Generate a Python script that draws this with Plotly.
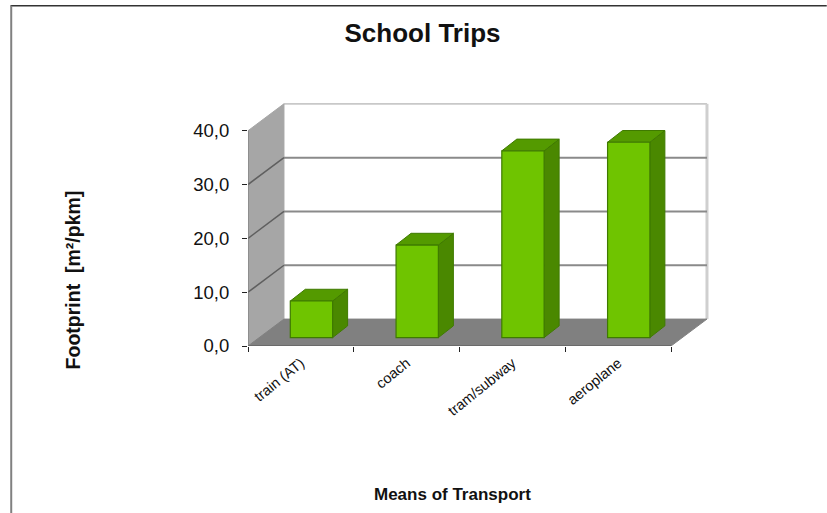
import plotly.graph_objects as go

# Data
categories = ["train (AT)", "coach", "tram/subway", "aeroplane"]
footprint = [6.8, 17.2, 34.7, 36.3]
y_ticks = [0, 10, 20, 30, 40]

# Pseudo-3D geometry, in axis units
WALL_DX, WALL_DY = 0.34, 5.0
BAR_DX, BAR_DY = 0.142, 2.18
BAR_BASE, BAR_SHIFT, BAR_W = 1.56, 0.10, 0.40
X_MAX, Y_MAX = 4.378, 45.15
n = len(categories)
centres = [i + 0.5 for i in range(n)]
bar_x = [c + BAR_SHIFT for c in centres]

FONT = "Liberation Sans, Arial, sans-serif"
EDGE = "#3f7a00"
shapes = []


def poly(xs, ys, fill, line=None, width=1):
    path = "M" + " L".join(f"{x},{y}" for x, y in zip(xs, ys)) + " Z"
    shapes.append(dict(type="path", path=path, xref="x", yref="y", fillcolor=fill,
                       layer="below", line=dict(color=line or fill, width=width)))


def seg(x0, y0, x1, y1, color, width):
    shapes.append(dict(type="line", x0=x0, y0=y0, x1=x1, y1=y1, xref="x", yref="y",
                       layer="below", line=dict(color=color, width=width)))


top = y_ticks[-1]
# back wall with light edge
poly([WALL_DX, n + WALL_DX, n + WALL_DX, WALL_DX],
     [WALL_DY, WALL_DY, top + WALL_DY, top + WALL_DY], "#ffffff")
seg(WALL_DX, top + WALL_DY, n + WALL_DX, top + WALL_DY, "#c8c8c8", 2)
seg(n + WALL_DX, WALL_DY, n + WALL_DX, top + WALL_DY, "#cfcfcf", 3)
# side wall and floor
poly([0, 0, WALL_DX, WALL_DX], [0, top, top + WALL_DY, WALL_DY], "#a6a6a6")
poly([0, n, n + WALL_DX, WALL_DX], [0, 0, WALL_DY, WALL_DY], "#808080")
# gridlines, wall and slanted part
for t in y_ticks[1:-1]:
    seg(WALL_DX, t + WALL_DY, n + WALL_DX, t + WALL_DY, "#8a8a8a", 2)
    seg(0, t, WALL_DX, t + WALL_DY, "#5f5f5f", 1.5)
# bars: side and top faces, computed from the values
for x, v in zip(bar_x, footprint):
    x0, x1 = x - BAR_W / 2, x + BAR_W / 2
    y0, y1 = BAR_BASE, BAR_BASE + v
    poly([x1, x1 + BAR_DX, x1 + BAR_DX, x1], [y0, y0 + BAR_DY, y1 + BAR_DY, y1], "#4a8800", EDGE)
    poly([x0, x1, x1 + BAR_DX, x0 + BAR_DX], [y1, y1, y1 + BAR_DY, y1 + BAR_DY], "#549a00", EDGE)

fig = go.Figure()
fig.add_trace(go.Bar(x=bar_x, y=footprint, base=BAR_BASE, width=BAR_W,
                     marker=dict(color="#6fc400", line=dict(color=EDGE, width=1.2)),
                     hoverinfo="skip", showlegend=False))
# axis lines
fig.add_trace(go.Scatter(x=[0, n], y=[0, 0], mode="lines", line=dict(color="#555555", width=1),
                         cliponaxis=False, hoverinfo="skip", showlegend=False))
fig.add_trace(go.Scatter(x=[0, 0], y=[0, top], mode="lines", line=dict(color="#777777", width=1),
                         cliponaxis=False, hoverinfo="skip", showlegend=False))

# page frame
shapes.append(dict(type="line", xref="paper", yref="paper", x0=-0.5129, x1=1.25, y0=1.4, y1=1.4,
                   line=dict(color="#333333", width=1.5)))
shapes.append(dict(type="line", xref="paper", yref="paper", x0=-0.5114, x1=-0.5114, y0=1.4, y1=-0.7,
                   line=dict(color="#808080", width=2)))

fig.update_layout(
    width=827, height=513, margin=dict(l=247.5, r=116, t=103, b=167.3),
    paper_bgcolor="#ffffff", plot_bgcolor="#ffffff", separators=",.",
    font=dict(family=FONT, color="#111111"), showlegend=False, shapes=shapes,
    title=dict(text="<b>School Trips</b>", font=dict(size=26), x=422.5 / 827, xanchor="center",
               y=1 - 33 / 513, yanchor="middle"),
    xaxis=dict(range=[0, X_MAX], showgrid=False, zeroline=False, showline=False,
               tickmode="array", tickvals=centres, ticktext=categories, tickangle=-39,
               tickfont=dict(size=14.5), ticks="", ticklabelstandoff=5,
               minor=dict(tickmode="array", tickvals=list(range(n + 1)), ticks="outside",
                          ticklen=5, tickcolor="#222222", tickwidth=1, showgrid=False)),
    yaxis=dict(range=[0, Y_MAX], showgrid=False, zeroline=False, showline=False,
               tickmode="array", tickvals=y_ticks, tickformat=".1f", tickfont=dict(size=18.5),
               ticks="outside", ticklen=5, tickcolor="#222222", tickwidth=1,
               ticklabelstandoff=9),
    annotations=[
        dict(text="<b>Means of Transport</b>", xref="paper", yref="paper", showarrow=False,
             x=(452.5 - 247.5) / 463.5, y=(345.7 - 494) / 242.7, xanchor="center", yanchor="middle",
             font=dict(size=17)),
        dict(text="<b>Footprint  [m²/pkm]</b>", xref="paper", yref="paper", showarrow=False,
             x=(72 - 247.5) / 463.5, y=(345.7 - 279.5) / 242.7, xanchor="center", yanchor="middle",
             textangle=-90, font=dict(size=19.5)),
    ],
)
fig.write_html("out.html", config=dict(displayModeBar=False),
               post_script="document.body.style.margin='0';")
